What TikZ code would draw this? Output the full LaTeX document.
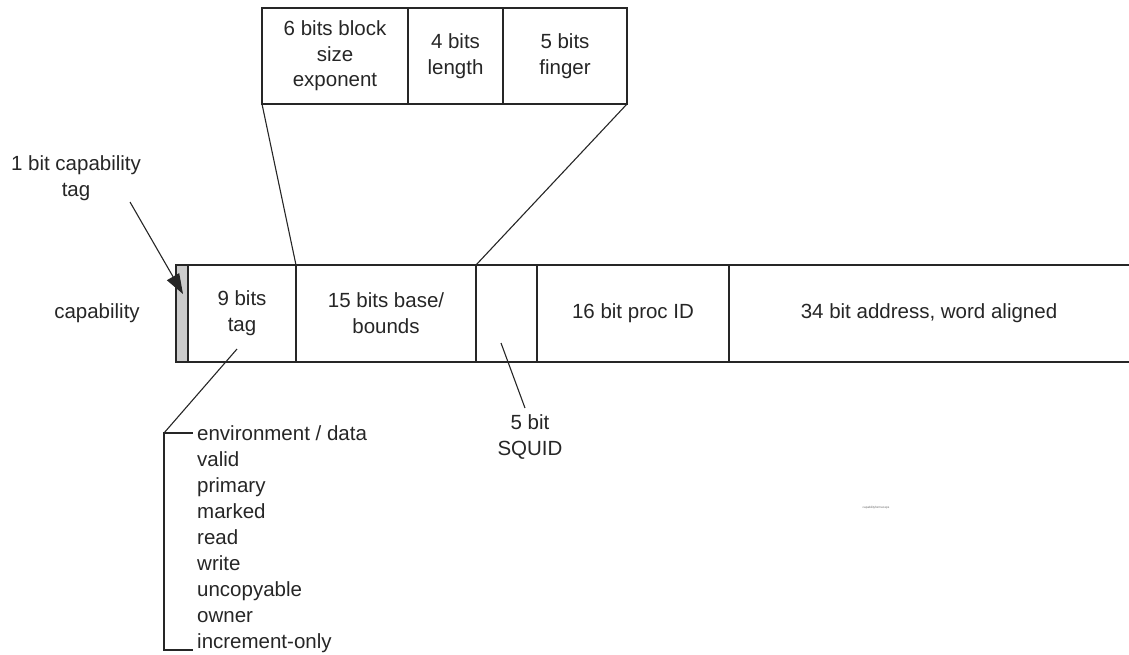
\documentclass[tikz,border=0pt]{standalone}
\usepackage{fontspec}
\setmainfont{Liberation Sans}
\usetikzlibrary{arrows.meta}
\tikzset{
  lbl/.style={font=\fontsize{20.5pt}{25.5pt}\selectfont, text=black!85, align=center, inner sep=0pt},
  listitem/.style={font=\fontsize{20.5pt}{25.5pt}\selectfont, text=black!85, anchor=base west, inner sep=0pt},
  ln/.style={draw=black!85, line width=1.1pt},
}
\begin{document}
\begin{tikzpicture}[x=1pt,y=-1pt]
\useasboundingbox (0,0) rectangle (1129,654);
% top detail box
\coordinate (tl) at (262,8);
\coordinate (tr) at (627,8);
\coordinate (bl) at (262,104);
\coordinate (br) at (627,104);
\draw[ln] (tl) rectangle (br);
\draw[ln] (408,8) -- (408,104);
\draw[ln] (503,8) -- (503,104);
\node[lbl] (exp) at (335,56) {6 bits block\\size\\exponent};
\node[lbl] (len) at (455.5,56) {4 bits\\length};
\node[lbl] (fin) at (565,56) {5 bits\\finger};
% main row
\fill[black!20] (176,265) rectangle (188,362);
\draw[ln] (1129,265) -- (176,265) -- (176,362) -- (1129,362);
\foreach \x in {188,296,476,537,729} \draw[ln] (\x,265) -- (\x,362);
\coordinate (c1) at (296,265);
\coordinate (c2) at (476,265);
\draw[ln] (bl) -- (c1);
\draw[ln] (br) -- (c2);
\node[lbl] (cap) at (97,313) {capability};
\node[lbl] (tag) at (242,313) {9 bits\\tag};
\node[lbl] (base) at (386,313) {15 bits base/\\bounds};
\node[lbl] (proc) at (633,313) {16 bit proc ID};
\node[lbl] (addr) at (929,313) {34 bit address, word aligned};
% capability tag label + arrow
\node[lbl] (ctag) at (76,178) {1 bit capability\\tag};
\coordinate (ctail) at (130,202);
\coordinate (chead) at (183,294);
\draw[ln, -{Triangle[length=20pt,width=14pt]}] (ctail) -- (chead);
% squid
\node[lbl] (squid) at (530,437) {5 bit\\SQUID};
\coordinate (sq1) at (501,343);
\coordinate (sq2) at (525,408);
\draw[ln] (sq1) -- (sq2);
% tag bracket
\coordinate (t1) at (237,349);
\coordinate (bk1) at (164,433);
\draw[ln] (t1) -- (bk1);
\draw[ln] (193,433) -- (bk1) -- (164,650) -- (193,650);
\foreach \t [count=\i from 0] in {environment / data, valid, primary, marked, read, write, uncopyable, owner, increment-only}
  \node[listitem] (item\i) at (197,{440+\i*26.1}) {\t};
% tiny filename
\node[font=\fontsize{3pt}{3pt}\selectfont, text=black!60, inner sep=0pt] (fname) at (876,508) {capabilityformat.eps};
\end{tikzpicture}
\end{document}
